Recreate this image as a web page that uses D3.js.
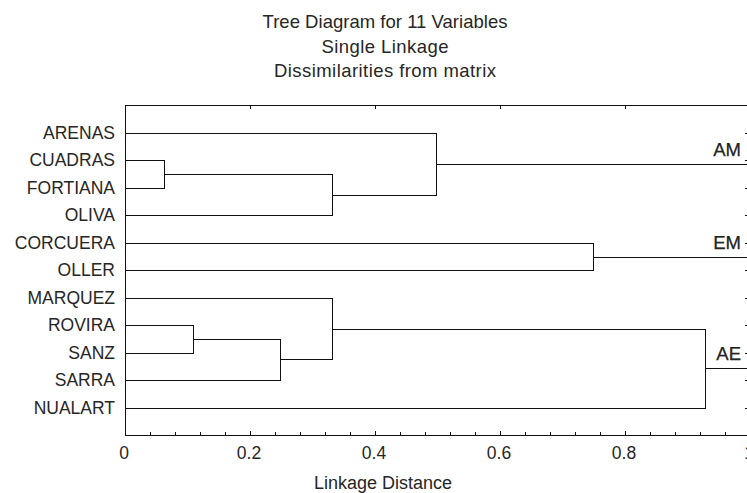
<!DOCTYPE html>
<html>
<head>
<meta charset="utf-8">
<script src="https://cdn.jsdelivr.net/npm/d3@7"></script>
<style>
  body { margin: 0; background: #fff; }
  svg text { font-family: "Liberation Sans", Arial, sans-serif; fill: #262626; }
</style>
</head>
<body>
<svg id="chart" width="747" height="493"></svg>
<script>
// leaves, top to bottom
const leaves = ["ARENAS", "CUADRAS", "FORTIANA", "OLIVA", "CORCUERA", "OLLER",
                "MARQUEZ", "ROVIRA", "SANZ", "SARRA", "NUALART"];
// merge rows: [left node, right node, linkage distance]; new node ids start at 11
const merges = [
  [1, 2, 0.063],
  [11, 3, 0.331],
  [0, 12, 0.498],
  [4, 5, 0.748],
  [7, 8, 0.109],
  [15, 9, 0.248],
  [6, 16, 0.331],
  [17, 10, 0.928]
];
// named groups: cluster node and its label
const groupNodes = [13, 14, 18];
const groupNames = ["AM", "EM", "AE"];
const titleLines = ["Tree Diagram for 11 Variables", "Single Linkage", "Dissimilarities from matrix"];
const xTicks = [0, 0.2, 0.4, 0.6, 0.8, 1];

const svg = d3.select("#chart");
const pL = 125, pR = 750, pT = 105.5, pB = 435;

const scX = d3.scaleLinear().domain([0, 1]).range([pL, pR]);
const scY = d3.scalePoint().domain(leaves).range([pT, pB]).padding(1);

// node positions
let nodes = leaves.map(d => ({ y: scY(d), h: 0 }));
merges.forEach(m => {
  nodes.push({ y: (nodes[m[0]].y + nodes[m[1]].y) / 2, h: m[2], kids: [m[0], m[1]] });
});

// title
svg.append("g")
  .selectAll("text")
  .data(titleLines)
  .enter()
  .append("text")
  .attr("x", 385).attr("y", (d, i) => 28 + i * 24.5)
  .attr("text-anchor", "middle")
  .attr("font-size", 18.5)
  .attr("textLength", (d, i) => [245, 127, 222][i])
  .text(d => d);

const g = svg.append("g")
  .attr("fill", "none").attr("stroke", "#111").attr("stroke-width", 1)
  .attr("shape-rendering", "crispEdges");

// frame
g.append("path")
  .attr("d", `M${pR},${pT}H${pL}V${pB}H${pR}`);

// bottom ticks (minor each 0.04) and top ticks
const minor = d3.range(0, 1.0001, 0.04);
g.selectAll(".tb")
  .data(minor)
  .enter()
  .append("line")
  .attr("x1", d => Math.round(scX(d)) + 0.5).attr("x2", d => Math.round(scX(d)) + 0.5)
  .attr("y1", pB).attr("y2", (d, i) => pB - (i % 5 === 0 ? 4 : 3));
g.selectAll(".tt")
  .data(xTicks)
  .enter()
  .append("line")
  .attr("x1", d => Math.round(scX(d)) + 0.5).attr("x2", d => Math.round(scX(d)) + 0.5)
  .attr("y1", pT).attr("y2", pT + 3);

// right ticks at each leaf
g.selectAll(".tr")
  .data(leaves)
  .enter()
  .append("line")
  .attr("x1", pR).attr("x2", pR - 5)
  .attr("y1", d => Math.round(scY(d)) + 0.5).attr("y2", d => Math.round(scY(d)) + 0.5);

// tick labels
svg.append("g")
  .selectAll("text")
  .data(xTicks)
  .enter()
  .append("text")
  .attr("x", d => scX(d) - 1).attr("y", 459)
  .attr("text-anchor", "middle")
  .attr("font-size", 17.5)
  .text(d => d3.format("~g")(d));

svg.append("text")
  .attr("x", 383).attr("y", 489)
  .attr("text-anchor", "middle")
  .attr("font-size", 18)
  .text("Linkage Distance");

// leaf labels
svg.append("g")
  .selectAll("text")
  .data(leaves)
  .enter()
  .append("text")
  .attr("x", 115).attr("y", d => scY(d) + 6)
  .attr("text-anchor", "end")
  .attr("font-size", 17.5)
  .text(d => d);

// dendrogram links
const px = v => Math.round(v) + 0.5;
merges.forEach((m, i) => {
  const n = nodes[leaves.length + i];
  const a = nodes[m[0]], b = nodes[m[1]];
  g.append("path")
    .attr("d", `M${scX(a.h)},${px(a.y)}H${px(scX(n.h))}V${px(b.y)}H${scX(b.h)}`);
});
// group lines out to the right edge
g.selectAll(".grp")
  .data(groupNodes)
  .enter()
  .append("line")
  .attr("x1", d => scX(nodes[d].h)).attr("x2", pR)
  .attr("y1", d => px(nodes[d].y)).attr("y2", d => px(nodes[d].y));

svg.append("g")
  .selectAll("text")
  .data(groupNodes)
  .enter()
  .append("text")
  .attr("x", 741).attr("y", d => nodes[d].y - 8)
  .attr("text-anchor", "end")
  .attr("font-size", 18.5)
  .attr("fill", "#111")
  .attr("stroke", "#111").attr("stroke-width", 0.25)
  .text((d, i) => groupNames[i]);
</script>
</body>
</html>
